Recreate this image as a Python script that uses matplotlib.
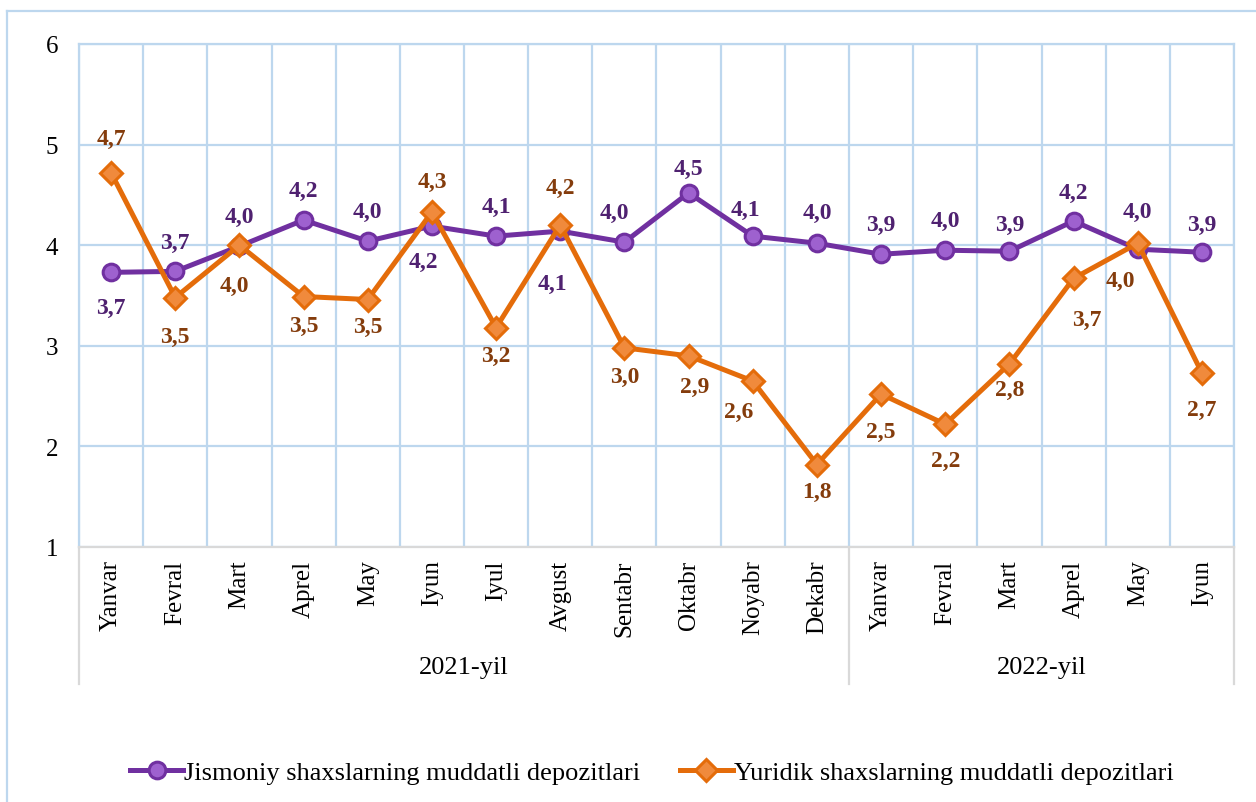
import matplotlib
matplotlib.use("Agg")
import matplotlib.pyplot as plt
from matplotlib.lines import Line2D

plt.rcParams['font.family'] = ['Liberation Serif', 'DejaVu Serif']

months = ["Yanvar", "Fevral", "Mart", "Aprel", "May", "Iyun", "Iyul", "Avgust",
          "Sentabr", "Oktabr", "Noyabr", "Dekabr",
          "Yanvar", "Fevral", "Mart", "Aprel", "May", "Iyun"]
groups = ["2021-yil", "2022-yil"]
group_sizes = [12, 6]

jismoniy = [3.73, 3.74, 3.99, 4.25, 4.04, 4.19, 4.09, 4.14, 4.03, 4.52, 4.09, 4.02,
            3.91, 3.95, 3.94, 4.24, 3.96, 3.93]
yuridik = [4.72, 3.48, 4.00, 3.49, 3.46, 4.33, 3.18, 4.20, 2.98, 2.90, 2.65, 1.82,
           2.52, 2.22, 2.82, 3.67, 4.02, 2.73]

jis_name = "Jismoniy shaxslarning muddatli depozitlari"
yur_name = "Yuridik shaxslarning muddatli depozitlari"

# label offsets in pixels (dx, dy), dy positive = down
jis_off = [(0, 35), (0, -29), (0, -30), (0, -30), (0, -30), (-9, 35), (0, -30), (-8, 52),
           (-10, -30), (0, -24), (-7, -27), (0, -31), (0, -30), (0, -30), (0, -27),
           (0, -29), (0, -38), (0, -28)]
yur_off = [(0, -34), (0, 39), (-5, 40), (0, 29), (0, 27), (0, -31), (0, 28), (0, -38),
           (0, 29), (6, 31), (-14, 30), (0, 27), (0, 37), (0, 36), (0, 26), (13, 41),
           (-17, 37), (0, 36)]

purple = "#7030A0"
purple_face = "#9E61CF"
purple_text = "#4F2170"
orange = "#E46C0A"
orange_face = "#F08A3C"
orange_text = "#843C0C"
grid_blue = "#BDD7EE"
sep_gray = "#D9D9D9"

W, H = 1256, 803
fig = plt.figure(figsize=(W / 100, H / 100), dpi=100)
ax = fig.add_axes([79 / W, 1 - 548 / H, (1234 - 79) / W, (548 - 45) / H])

n = len(months)
xs = [i + 0.5 for i in range(n)]

ax.plot(xs, jismoniy, color=purple, lw=3.6, marker='o', ms=12,
        mfc=purple_face, mec=purple, mew=2.2, zorder=3, label=jis_name)
ax.plot(xs, yuridik, color=orange, lw=3.6, marker='D', ms=11,
        mfc=orange_face, mec=orange, mew=2.2, zorder=4, label=yur_name)

k = 72 / 100
for x, v, (dx, dy) in zip(xs, jismoniy, jis_off):
    ax.annotate(f"{v:.1f}".replace(".", ","), (x, v), xytext=(dx * k, -dy * k),
                textcoords="offset points", ha="center", va="center",
                fontsize=17, fontweight="bold", color=purple_text, zorder=5)
for x, v, (dx, dy) in zip(xs, yuridik, yur_off):
    ax.annotate(f"{v:.1f}".replace(".", ","), (x, v), xytext=(dx * k, -dy * k),
                textcoords="offset points", ha="center", va="center",
                fontsize=17, fontweight="bold", color=orange_text, zorder=5)

ax.set_xlim(0, n)
ax.set_ylim(1, 6)
ax.set_yticks(range(1, 7))
ax.set_xticks(xs)
ax.set_xticklabels(months, rotation=90, fontsize=18)
ax.set_xticks(range(n + 1), minor=True)
ax.tick_params(axis='both', which='both', length=0)
ax.tick_params(axis='x', pad=9)
ax.tick_params(axis='y', labelsize=18, pad=15)
ax.grid(axis='y', color=grid_blue, lw=1.6)
ax.grid(axis='x', which='minor', color=grid_blue, lw=1.6)
ax.set_axisbelow(True)
for s in ['left', 'right', 'top']:
    ax.spines[s].set_color(grid_blue)
    ax.spines[s].set_linewidth(1.6)
ax.spines['bottom'].set_color(sep_gray)
ax.spines['bottom'].set_linewidth(1.6)

# group separators and labels under the axis
tr = ax.get_xaxis_transform()
depth = -(685 - 548) / (548 - 45)
start = 0
for g, size in zip(groups, group_sizes):
    ax.plot([start, start], [0, depth], transform=tr, color=sep_gray, lw=1.6, clip_on=False)
    ax.text(start + size / 2, -(668 - 548) / (548 - 45), g, transform=tr,
            ha="center", va="center", fontsize=19)
    start += size
ax.plot([start, start], [0, depth], transform=tr, color=sep_gray, lw=1.6, clip_on=False)

# outer chart border (left and top visible)
fig.add_artist(Line2D([7 / W, 7 / W], [0, 1 - 12 / H], color=grid_blue, lw=1.6))
fig.add_artist(Line2D([7 / W, 1], [1 - 12 / H, 1 - 12 / H], color=grid_blue, lw=1.6))

fig.legend(loc="center", bbox_to_anchor=(652 / W, 1 - 773 / H), ncol=2, frameon=False,
           fontsize=19, handlelength=2.0, handletextpad=0.05, columnspacing=1.5)

fig.savefig("out.png", dpi=100)
